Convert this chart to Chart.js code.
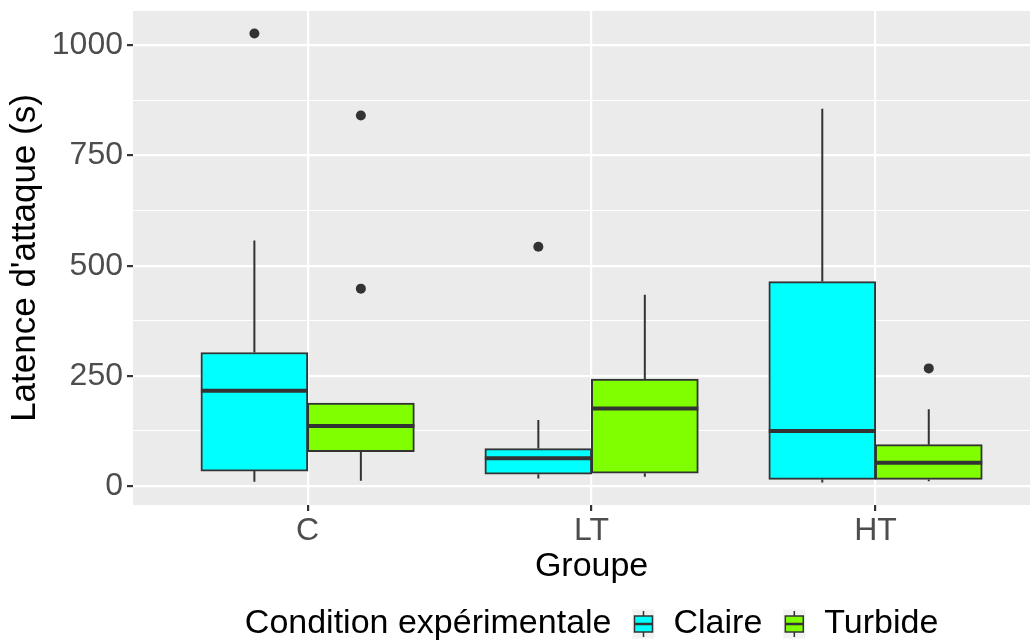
<!DOCTYPE html>
<html>
<head>
<meta charset="utf-8">
<script src="https://cdn.jsdelivr.net/npm/chart.js@4.4.1/dist/chart.umd.min.js"></script>
<style>
	html, body { margin: 0; padding: 0; background: #ffffff; }
	#wrap { width: 1035px; height: 641px; }
</style>
</head>
<body>
<div id="wrap"><canvas id="canvas" width="1035" height="641"></canvas></div>
<script>
// categories
var groups = ["C", "LT", "HT"];
var conditions = ["Claire", "Turbide"];
var colors = ["#00FFFF", "#7FFF00"];

// Claire (boxplot stats)
var claireLower = [10, 17, 8];
var claireQ1 = [34, 27, 15];
var claireMedian = [216, 63, 125];
var claireQ3 = [303, 85, 464];
var claireUpper = [557, 150, 856];
var claireOutliers = [[1027], [543], []];

// Turbide
var turbideLower = [12, 21, 11];
var turbideQ1 = [78, 29, 15];
var turbideMedian = [136, 176, 53];
var turbideQ3 = [188, 243, 94];
var turbideUpper = [188, 434, 174];
var turbideOutliers = [[841, 448], [], [267]];

// ticks
var yMajorTicks = [0, 250, 500, 750, 1000];
var yTickLabels = ["0", "250", "500", "750", "1000"];
var yMinorTicks = [125, 375, 625, 875];

var FONT = "'Liberation Sans', Arial, sans-serif";
var TITLE_SIZE = 34;
var dodge = 0.1875;

var series = [
	{ name: conditions[0], color: colors[0], lower: claireLower, q1: claireQ1, median: claireMedian, q3: claireQ3, upper: claireUpper, outliers: claireOutliers, offset: -dodge },
	{ name: conditions[1], color: colors[1], lower: turbideLower, q1: turbideQ1, median: turbideMedian, q3: turbideQ3, upper: turbideUpper, outliers: turbideOutliers, offset: dodge }
];

var datasets = [];
series.forEach(function(s) {
	datasets.push({
		type: "bar",
		label: s.name,
		data: groups.map(function(g, i) { return { x: i + 1 + s.offset, y: [s.q1[i], s.q3[i]] }; }),
		backgroundColor: s.color,
		borderColor: "#333333",
		borderWidth: 2,
		borderSkipped: false,
		barThickness: 107,
		grouped: false
	});
});
series.forEach(function(s) {
	var pts = [];
	groups.forEach(function(g, i) {
		s.outliers[i].forEach(function(v) { pts.push({ x: i + 1 + s.offset, y: v }); });
	});
	datasets.push({
		type: "scatter",
		label: s.name + " outliers",
		data: pts,
		pointRadius: 5,
		pointBackgroundColor: "#333333",
		pointBorderWidth: 0
	});
});

var boxExtras = {
	id: "boxExtras",
	beforeDraw: function(chart) {
		var a = chart.chartArea, ctx = chart.ctx;
		ctx.save();
		ctx.fillStyle = "#EBEBEB";
		ctx.fillRect(a.left, a.top, a.right - a.left, a.bottom - a.top);
		ctx.restore();
	},
	afterDatasetsDraw: function(chart) {
		var y = chart.scales.y, ctx = chart.ctx;
		ctx.save();
		ctx.strokeStyle = "#333333";
		ctx.lineCap = "butt";
		series.forEach(function(s, di) {
			var meta = chart.getDatasetMeta(di);
			groups.forEach(function(g, i) {
				var bar = meta.data[i];
				var cx = bar.x;
				ctx.lineWidth = 2;
				ctx.beginPath();
				ctx.moveTo(cx, y.getPixelForValue(s.q3[i]));
				ctx.lineTo(cx, y.getPixelForValue(s.upper[i]));
				ctx.moveTo(cx, y.getPixelForValue(s.q1[i]));
				ctx.lineTo(cx, y.getPixelForValue(s.lower[i]));
				ctx.stroke();
				ctx.lineWidth = 4;
				ctx.beginPath();
				ctx.moveTo(cx - bar.width / 2, y.getPixelForValue(s.median[i]));
				ctx.lineTo(cx + bar.width / 2, y.getPixelForValue(s.median[i]));
				ctx.stroke();
			});
		});
		ctx.restore();
	},
	afterDraw: function(chart) {
		var ctx = chart.ctx;
		var mid = chart.scales.x.getPixelForValue(2);
		ctx.save();
		ctx.font = TITLE_SIZE + "px " + FONT;
		ctx.fillStyle = "#000000";
		ctx.textBaseline = "middle";

		// x axis title, centred on the panel like ggplot
		ctx.textAlign = "center";
		ctx.fillText("Groupe", mid, 567);
		ctx.textAlign = "left";

		// legend
		var title = "Condition expérimentale";
		var keyW = 22, keyH = 29;
		var total = ctx.measureText(title).width;
		series.forEach(function(s) { total += 21 + keyW + 19 + ctx.measureText(s.name).width; });
		var xPos = mid - total / 2;
		var cy = 624;
		ctx.fillText(title, xPos, cy);
		xPos += ctx.measureText(title).width;
		series.forEach(function(s) {
			xPos += 21;
			ctx.fillStyle = "#F2F2F2";
			ctx.fillRect(xPos, cy - keyH / 2, keyW, keyH);
			ctx.strokeStyle = "#333333";
			ctx.lineWidth = 1.5;
			var cx = xPos + keyW / 2;
			ctx.beginPath();
			ctx.moveTo(cx, cy - 13); ctx.lineTo(cx, cy - 8);
			ctx.moveTo(cx, cy + 8); ctx.lineTo(cx, cy + 13);
			ctx.stroke();
			ctx.fillStyle = s.color;
			ctx.fillRect(xPos + 2, cy - 8, keyW - 4, 16);
			ctx.strokeRect(xPos + 2, cy - 8, keyW - 4, 16);
			ctx.lineWidth = 2.5;
			ctx.beginPath();
			ctx.moveTo(xPos + 2, cy); ctx.lineTo(xPos + keyW - 2, cy);
			ctx.stroke();
			xPos += keyW + 19;
			ctx.fillStyle = "#000000";
			ctx.fillText(s.name, xPos, cy);
			xPos += ctx.measureText(s.name).width;
		});
		ctx.restore();
	}
};

function isMajor(v) { return yMajorTicks.indexOf(v) >= 0; }

var ctx = document.getElementById("canvas").getContext("2d");
var chart = new Chart(ctx, {
	type: "bar",
	data: { datasets: datasets },
	options: {
		responsive: false,
		animation: false,
		layout: { padding: { top: 11, right: 0, bottom: 0, left: 0 } },
		plugins: {
			legend: { display: false },
			tooltip: { enabled: false }
		},
		scales: {
			x: {
				type: "linear",
				offset: false,
				min: 0.385,
				max: 3.544,
				afterBuildTicks: function(scale) {
					scale.ticks = groups.map(function(g, i) { return { value: i + 1 }; });
				},
				afterFit: function(scale) {
					scale.height = 136;
					scale.paddingLeft = 0;
					scale.paddingRight = 0;
				},
				grid: { offset: false, color: "#FFFFFF", lineWidth: 2.2, tickColor: "#333333", tickLength: 6 },
				border: { display: false },
				ticks: {
					autoSkip: false,
					maxRotation: 0,
					padding: 1,
					color: "#4D4D4D",
					font: { family: FONT, size: 32 },
					callback: function(v) { return groups[v - 1]; }
				},
				title: { display: false }
			},
			y: {
				type: "linear",
				min: -43,
				max: 1078,
				afterBuildTicks: function(scale) {
					scale.ticks = yMajorTicks.concat(yMinorTicks).sort(function(a, b) { return a - b; })
						.map(function(v) { return { value: v }; });
				},
				afterFit: function(scale) {
					scale.width = 133;
					scale.paddingTop = 0;
					scale.paddingBottom = 0;
				},
				grid: {
					color: "#FFFFFF",
					lineWidth: function(c) { return c.tick && isMajor(c.tick.value) ? 2.2 : 1.1; },
					tickColor: function(c) { return c.tick && isMajor(c.tick.value) ? "#333333" : "rgba(0,0,0,0)"; },
					tickLength: 6
				},
				border: { display: false },
				ticks: {
					autoSkip: false,
					padding: 4,
					color: "#4D4D4D",
					font: { family: FONT, size: 32 },
					callback: function(v) {
						var k = yMajorTicks.indexOf(v);
						return k >= 0 ? yTickLabels[k] : "";
					}
				},
				title: {
					display: true,
					text: "Latence d'attaque (s)",
					color: "#000000",
					font: { family: FONT, size: 35 },
					padding: { top: 4, bottom: 0 }
				}
			}
		}
	},
	plugins: [boxExtras]
});
</script>
</body>
</html>
